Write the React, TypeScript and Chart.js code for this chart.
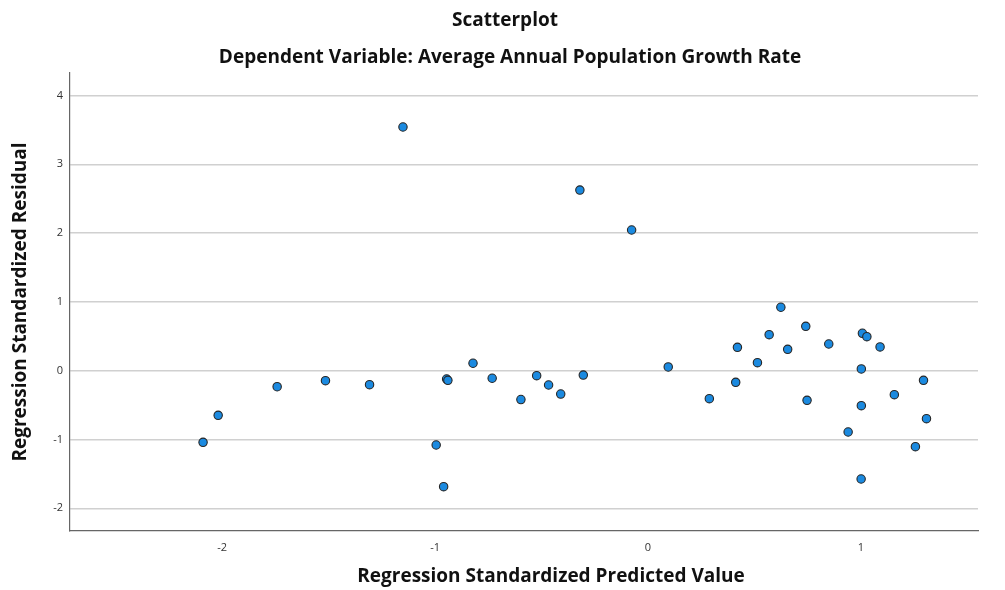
import React, { useEffect, useRef } from "react";
import { Chart, registerables } from "chart.js";

Chart.register(...registerables);

const predictedValues = [
  -2.09, -2.019, -1.742, -1.515, -1.308, -1.151, -0.995, -0.96, -0.946, -0.94,
  -0.822, -0.732, -0.597, -0.523, -0.467, -0.41, -0.32, -0.304, -0.077, 0.095,
  0.288, 0.412, 0.42, 0.514, 0.569, 0.624, 0.656, 0.741, 0.747, 0.849,
  0.94, 1.002, 1.002, 1.007, 1.028, 1.001, 1.09, 1.157, 1.256, 1.294, 1.308,
];
const residualValues = [
  -1.041, -0.648, -0.233, -0.145, -0.203, 3.542, -1.08, -1.686, -0.121, -0.14,
  0.108, -0.11, -0.419, -0.073, -0.208, -0.339, 2.626, -0.063, 2.045, 0.054,
  -0.407, -0.169, 0.34, 0.116, 0.523, 0.922, 0.311, 0.645, -0.43, 0.388,
  -0.891, 0.025, -0.509, 0.544, 0.494, -1.574, 0.345, -0.349, -1.105, -0.14, -0.698,
];
const xTickValues = [-2, -1, 0, 1];
const yTickValues = [-2, -1, 0, 1, 2, 3, 4];

const chartTitle = "Scatterplot";
const chartSubtitle = "Dependent Variable: Average Annual Population Growth Rate";
const xAxisTitle = "Regression Standardized Predicted Value";
const yAxisTitle = "Regression Standardized Residual";

const FONT = "'Open Sans', 'DejaVu Sans', sans-serif";
const TITLE_SIZE = 19;

export default function App() {
  const canvasRef = useRef<HTMLCanvasElement | null>(null);

  useEffect(() => {
    const canvas = canvasRef.current;
    if (!canvas) return;

    const points = predictedValues.map((x, i) => ({ x, y: residualValues[i] }));

    const textPlugin = {
      id: "textPlugin",
      afterDraw(chart: any) {
        const ctx = chart.ctx;
        ctx.save();
        ctx.font = `bold ${TITLE_SIZE}px ${FONT}`;
        ctx.fillStyle = "#111";
        ctx.textAlign = "center";
        ctx.textBaseline = "middle";
        ctx.fillText(chartTitle, 505, 21);
        ctx.fillText(chartSubtitle, 510, 58);
        ctx.fillText(xAxisTitle, 551, 577);
        ctx.restore();
      },
    };

    const chart = new Chart(canvas, {
      type: "scatter",
      data: {
        datasets: [
          {
            data: points,
            backgroundColor: "#1b8ae0",
            borderColor: "#262626",
            borderWidth: 1.1,
            pointRadius: 4.2,
            pointHoverRadius: 4.2,
          },
        ],
      },
      options: {
        responsive: false,
        animation: false,
        layout: { padding: { left: 0, right: 27, top: 73, bottom: 0 } },
        plugins: {
          legend: { display: false },
          tooltip: { enabled: false },
          title: { display: false },
          subtitle: { display: false },
        },
        scales: {
          x: {
            type: "linear",
            min: -2.715,
            max: 1.55,
            afterBuildTicks: (scale: any) => {
              scale.ticks = xTickValues.map((v) => ({ value: v }));
            },
            afterFit: (scale: any) => {
              scale.height = 59;
            },
            grid: { display: false, drawTicks: false },
            border: { display: true, color: "#666", width: 1.2 },
            ticks: {
              color: "#333",
              font: { family: FONT, size: 11 },
              padding: 10,
              callback: (v: any) => String(v),
            },
            title: { display: false, text: xAxisTitle },
          },
          y: {
            type: "linear",
            min: -2.33,
            max: 4.327,
            afterBuildTicks: (scale: any) => {
              scale.ticks = yTickValues.map((v) => ({ value: v }));
            },
            afterFit: (scale: any) => {
              scale.width = 70;
            },
            grid: { color: "#d0d0d0", lineWidth: 1.5, drawTicks: false },
            border: { display: true, color: "#666", width: 1.2 },
            ticks: {
              color: "#333",
              font: { family: FONT, size: 11 },
              padding: 7,
              callback: (v: any) => String(v),
            },
            title: {
              display: true,
              text: yAxisTitle,
              color: "#111",
              font: { family: FONT, size: TITLE_SIZE, weight: "bold" },
              padding: { top: 9.6, bottom: 0 },
            },
          },
        },
      },
      plugins: [textPlugin],
    } as any);

    return () => chart.destroy();
  }, []);

  return (
    <div style={{ position: "absolute", left: 0, top: 0, width: 1005, height: 590, background: "#fff" }}>
      <canvas ref={canvasRef} width={1005} height={590} />
    </div>
  );
}
